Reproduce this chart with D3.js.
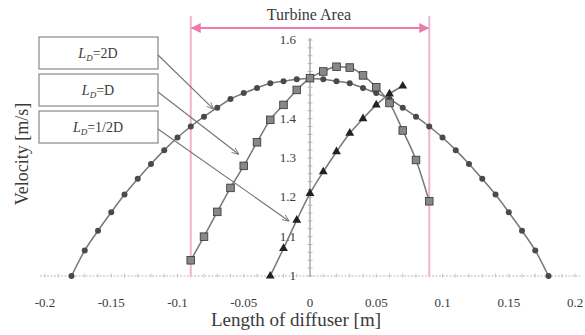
<!DOCTYPE html>
<html>
<head>
<meta charset="utf-8">
<script src="https://cdn.jsdelivr.net/npm/d3@7/dist/d3.min.js"></script>
<style>
body { margin: 0; background: #fff; }
text { font-family: "Liberation Serif", "DejaVu Serif", serif; fill: #3a3a3a; }
</style>
</head>
<body>
<svg id="chart" width="585" height="335"></svg>
<script>
// series data
var x2D = [-0.18,-0.17,-0.16,-0.15,-0.14,-0.13,-0.12,-0.11,-0.10,-0.09,-0.08,-0.07,-0.06,-0.05,-0.04,-0.03,-0.02,-0.01,0,
           0.01,0.02,0.03,0.04,0.05,0.06,0.07,0.08,0.09,0.10,0.11,0.12,0.13,0.14,0.15,0.16,0.17,0.18];
var v2D = [1.0,1.065,1.115,1.162,1.207,1.247,1.285,1.32,1.352,1.38,1.405,1.428,1.45,1.465,1.478,1.49,1.495,1.5,1.502,
           1.5,1.495,1.49,1.478,1.465,1.45,1.428,1.405,1.38,1.352,1.32,1.285,1.247,1.207,1.162,1.115,1.065,1.0];
var xD = [-0.09,-0.08,-0.07,-0.06,-0.05,-0.04,-0.03,-0.02,-0.01,0,0.01,0.02,0.03,0.04,0.05,0.06,0.07,0.08,0.09];
var vD = [1.04,1.10,1.163,1.224,1.28,1.34,1.397,1.435,1.473,1.503,1.52,1.532,1.53,1.51,1.48,1.44,1.37,1.295,1.19];
var xHalf = [-0.03,-0.02,-0.01,0,0.01,0.02,0.03,0.04,0.05,0.06,0.07];
var vHalf = [1.0,1.07,1.142,1.21,1.265,1.316,1.363,1.40,1.435,1.463,1.483];

var xTicks = [-0.2,-0.15,-0.1,-0.05,0,0.05,0.1,0.15,0.2];
var xTickLabels = ["-0.2","-0.15","-0.1","-0.05","0","0.05","0.1","0.15","0.2"];
// 1.5 is hidden under the curves in the original
var yTicks = [1,1.1,1.2,1.3,1.4,1.6];
var yTickLabels = ["1","1.1","1.2","1.3","1.4","1.6"];
var turbineEdges = [-0.09, 0.09];
var legendLabels = ["=2D", "=D", "=1/2D"];
// where each leader arrow points (x, velocity)
var legendTargets = [[-0.073,1.425],[-0.054,1.31],[-0.016,1.14]];

var svg = d3.select('#chart');
var x = d3.scaleLinear().domain([-0.2, 0.2]).range([45, 575]);
var y = d3.scaleLinear().domain([1, 1.6]).range([276, 40]);

var pink = '#ec7aa8';

// axes: horizontal dotted line at v=1, vertical line at x=0
svg.append('line')
    .attr('x1', 40).attr('x2', 580)
    .attr('y1', y(1)).attr('y2', y(1))
    .attr('stroke', '#bbb').attr('stroke-width', 1.2)
    .attr('stroke-dasharray', '2,1.5');
svg.selectAll('.xminor').data(d3.range(-0.2, 0.2001, 0.01))
    .enter().append('line')
    .attr('x1', function(d){ return x(d); }).attr('x2', function(d){ return x(d); })
    .attr('y1', y(1) - 2.5).attr('y2', y(1) + 1.5)
    .attr('stroke', '#bbb').attr('stroke-width', 0.8);

svg.append('line')
    .attr('x1', x(0)).attr('x2', x(0))
    .attr('y1', 38).attr('y2', y(1))
    .attr('stroke', '#aaa').attr('stroke-width', 1.5);
svg.selectAll('.yminor').data(d3.range(1, 1.601, 0.02))
    .enter().append('line')
    .attr('x1', x(0) - 2.5).attr('x2', x(0) + 2.5)
    .attr('y1', function(d){ return y(d); }).attr('y2', function(d){ return y(d); })
    .attr('stroke', '#aaa').attr('stroke-width', 0.8);

svg.selectAll('.xlab').data(xTicks)
    .enter().append('text')
    .attr('x', function(d){ return x(d); })
    .attr('y', 307)
    .attr('text-anchor', 'middle')
    .attr('font-size', 13)
    .text(function(d, i){ return xTickLabels[i]; });

svg.selectAll('.ylab').data(yTicks)
    .enter().append('text')
    .attr('x', 296)
    .attr('y', function(d){ return y(d) + 4; })
    .attr('text-anchor', 'end')
    .attr('font-size', 13)
    .text(function(d, i){ return yTickLabels[i]; });

// axis titles
svg.append('text')
    .attr('x', 296).attr('y', 326)
    .attr('text-anchor', 'middle')
    .attr('font-size', 19)
    .text('Length of diffuser [m]');
svg.append('text')
    .attr('transform', 'translate(28,154) rotate(-90)')
    .attr('text-anchor', 'middle')
    .attr('font-size', 18)
    .text('Velocity [m/s]');

// turbine area
svg.append('defs').html(
    '<marker id="pk" viewBox="0 0 10 10" refX="9" refY="5" markerWidth="5" markerHeight="5" orient="auto-start-reverse">' +
    '<path d="M0,0 L10,5 L0,10 z" fill="' + pink + '"/></marker>' +
    '<marker id="gr" viewBox="0 0 10 10" refX="9" refY="5" markerWidth="6" markerHeight="6" orient="auto">' +
    '<path d="M0,1 L10,5 L0,9" fill="none" stroke="#777" stroke-width="1.2"/></marker>');

svg.selectAll('.edge').data(turbineEdges)
    .enter().append('line')
    .attr('x1', function(d){ return x(d); }).attr('x2', function(d){ return x(d); })
    .attr('y1', 16).attr('y2', y(1))
    .attr('stroke', '#f2b4c8').attr('stroke-width', 2);
svg.append('line')
    .attr('x1', x(turbineEdges[0]) + 1).attr('x2', x(turbineEdges[1]) - 1)
    .attr('y1', 28).attr('y2', 28)
    .attr('stroke', pink).attr('stroke-width', 2)
    .attr('marker-start', 'url(#pk)').attr('marker-end', 'url(#pk)');
svg.append('text')
    .attr('x', 309).attr('y', 20)
    .attr('text-anchor', 'middle')
    .attr('font-size', 16)
    .text('Turbine Area');

// curves and markers
var line = d3.line()
    .x(function(d){ return x(d[0]); })
    .y(function(d){ return y(d[1]); })
    .curve(d3.curveMonotoneX);

var s2D = d3.zip(x2D, v2D), sD = d3.zip(xD, vD), sHalf = d3.zip(xHalf, vHalf);

[s2D, sD, sHalf].forEach(function(s){
    svg.append('path').datum(s)
        .attr('d', line)
        .attr('fill', 'none')
        .attr('stroke', '#777')
        .attr('stroke-width', 1.5);
});

svg.selectAll('.c2d').data(s2D)
    .enter().append('circle')
    .attr('cx', function(d){ return x(d[0]); })
    .attr('cy', function(d){ return y(d[1]); })
    .attr('r', 3)
    .attr('fill', '#4a4a4a');

svg.selectAll('.sqd').data(sD)
    .enter().append('rect')
    .attr('x', function(d){ return x(d[0]) - 3.8; })
    .attr('y', function(d){ return y(d[1]) - 3.8; })
    .attr('width', 7.6).attr('height', 7.6)
    .attr('fill', '#888')
    .attr('stroke', '#333').attr('stroke-width', 0.8);

var tri = d3.symbol().type(d3.symbolTriangle).size(34);
svg.selectAll('.trh').data(sHalf)
    .enter().append('path')
    .attr('d', tri)
    .attr('transform', function(d){ return 'translate(' + x(d[0]) + ',' + y(d[1]) + ')'; })
    .attr('fill', '#222');

// legend boxes with leader arrows
var boxY = [37, 74, 111];
legendLabels.forEach(function(lab, i){
    var g = svg.append('g');
    g.append('rect')
        .attr('x', 39).attr('y', boxY[i])
        .attr('width', 119).attr('height', 32)
        .attr('fill', '#fff')
        .attr('stroke', '#888').attr('stroke-width', 1.2);
    var t = g.append('text')
        .attr('x', 98).attr('y', boxY[i] + 21)
        .attr('text-anchor', 'middle')
        .attr('font-size', 14);
    t.append('tspan').attr('font-style', 'italic').text('L');
    t.append('tspan').attr('font-style', 'italic').attr('font-size', 9).attr('dy', 3).text('D');
    t.append('tspan').attr('dy', -3).text(lab);

    var tg = legendTargets[i];
    svg.append('line')
        .attr('x1', 158).attr('y1', boxY[i] + 18)
        .attr('x2', x(tg[0])).attr('y2', y(tg[1]))
        .attr('stroke', '#777').attr('stroke-width', 1.2)
        .attr('marker-end', 'url(#gr)');
});
</script>
</body>
</html>
